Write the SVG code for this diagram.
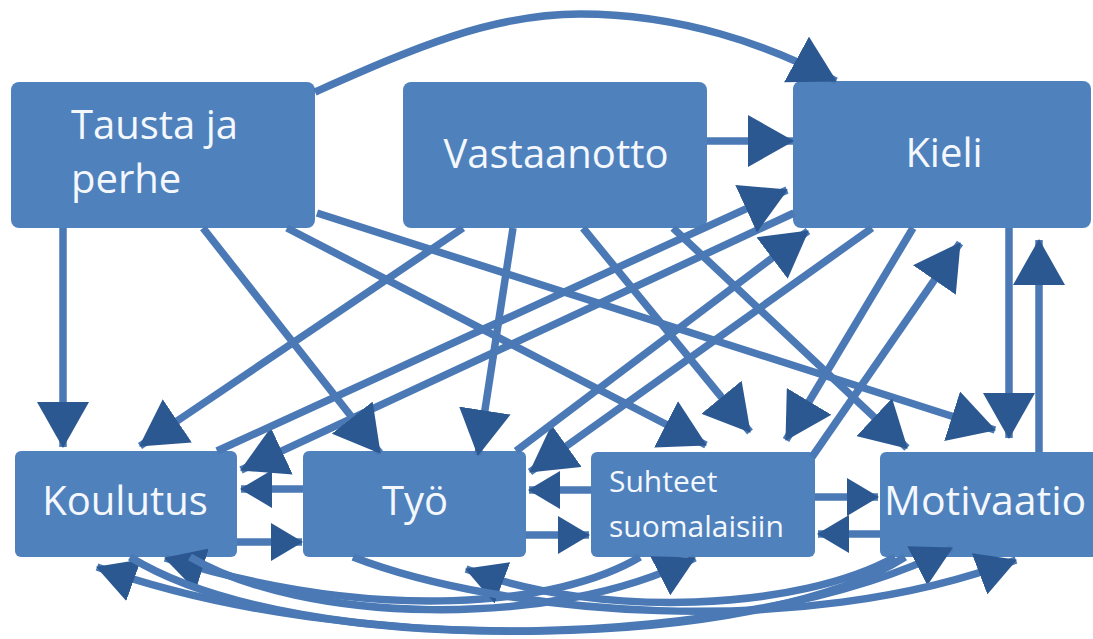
<svg xmlns="http://www.w3.org/2000/svg" width="1093" height="639" viewBox="0 0 1093 639">
<style>
.box{fill:#4f81bd;}
.t{fill:#f4f8fc;font-family:"Open Sans","Liberation Sans",sans-serif;font-size:40px;}
.c{fill:none;stroke:#4a79b5;stroke-width:7.5;}
</style>
<defs>
<marker id="a" markerUnits="userSpaceOnUse" viewBox="0 0 46 52" markerWidth="46" markerHeight="52" refX="45" refY="26" orient="auto"><path d="M0,0 L46,26 L0,52 Z" fill="#2c5891"/></marker>
<marker id="m" markerUnits="userSpaceOnUse" viewBox="0 0 40 44" markerWidth="40" markerHeight="44" refX="39" refY="22" orient="auto"><path d="M0,0 L40,22 L0,44 Z" fill="#2c5891"/></marker>
<marker id="s" markerUnits="userSpaceOnUse" viewBox="0 0 32 38" markerWidth="32" markerHeight="38" refX="31" refY="19" orient="auto"><path d="M0,0 L32,19 L0,38 Z" fill="#2c5891"/></marker>
</defs>
<rect width="1093" height="639" fill="#ffffff"/>
<g id="tausta"><rect class="box" x="11" y="82" width="304" height="146" rx="8"/><text class="t" x="71" y="139">Tausta ja</text><text class="t" x="71" y="193">perhe</text></g>
<g id="vastaanotto"><rect class="box" x="403" y="82" width="304" height="146" rx="8"/><text class="t" x="556" y="168" text-anchor="middle">Vastaanotto</text></g>
<g id="kieli"><rect class="box" x="793" y="81" width="298" height="147" rx="8"/><text class="t" x="944" y="167" text-anchor="middle">Kieli</text></g>
<g id="koulutus"><rect class="box" x="15" y="451" width="222" height="106" rx="6"/><text class="t" x="125" y="515" text-anchor="middle">Koulutus</text></g>
<g id="tyo"><rect class="box" x="303" y="451" width="223" height="106" rx="6"/><text class="t" x="415" y="515" text-anchor="middle">Työ</text></g>
<g id="suhteet"><rect class="box" x="591" y="452" width="224" height="105" rx="6"/><text class="t" x="609" y="492" style="font-size:30px">Suhteet</text><text class="t" x="609" y="537" style="font-size:30px">suomalaisiin</text></g>
<g id="motivaatio"><rect class="box" x="880" y="452" width="230" height="105" rx="6"/><text class="t" x="884" y="515" style="font-size:41px">Motivaatio</text></g>
<g id="connectors">
<path class="c" marker-end="url(#a)" d="M315,92 C410,50 490,14 580,14 C680,14 770,45 836,81"/>
<path class="c" marker-end="url(#a)" d="M707,141 L793,141"/>
<path class="c" marker-end="url(#a)" d="M63,228 L63,447"/>
<path class="c" marker-end="url(#a)" d="M463,228 L140,446"/>
<path class="c" marker-end="url(#a)" d="M794,213 L241,470"/>
<path class="c" marker-end="url(#a)" d="M217,451 L787,190"/>
<path class="c" marker-end="url(#a)" d="M203,228 L380,453"/>
<path class="c" marker-end="url(#a)" d="M513,228 L478,455"/>
<path class="c" marker-end="url(#a)" d="M872,228 L530,472"/>
<path class="c" marker-end="url(#a)" d="M516,451 L808,231"/>
<path class="c" marker-end="url(#a)" d="M287,228 L706,445"/>
<path class="c" marker-end="url(#a)" d="M317,213 L995,430"/>
<path class="c" marker-end="url(#a)" d="M583,228 L750,432"/>
<path class="c" marker-end="url(#a)" d="M673,228 L907,448"/>
<path class="c" marker-end="url(#a)" d="M913,228 L786,440"/>
<path class="c" marker-end="url(#a)" d="M812,457 L960,243"/>
<path class="c" marker-end="url(#a)" d="M1009,228 L1009,438"/>
<path class="c" marker-end="url(#a)" d="M1039,452 L1039,240"/>
<path class="c" marker-end="url(#s)" d="M303,489 L241,489"/>
<path class="c" marker-end="url(#s)" d="M237,542 L302,542"/>
<path class="c" marker-end="url(#s)" d="M591,490 L529,490"/>
<path class="c" marker-end="url(#s)" d="M526,535 L589,535"/>
<path class="c" marker-end="url(#s)" d="M815,497 L878,497"/>
<path class="c" marker-end="url(#s)" d="M880,534 L818,534"/>
<path class="c" marker-end="url(#m)" d="M905,557 C760,650 350,658 97,567"/>
<path class="c" marker-end="url(#m)" d="M640,557 C560,605 380,625 165,558"/>
<path class="c" marker-end="url(#m)" d="M895,557 C800,610 600,620 466,569"/>
<path class="c" marker-end="url(#m)" d="M190,557 C300,622 550,632 695,558"/>
<path class="c" marker-end="url(#m)" d="M130,557 C300,662 750,652 952,548"/>
<path class="c" marker-end="url(#m)" d="M353,557 C500,614 800,642 1016,560"/>
</g>
</svg>
